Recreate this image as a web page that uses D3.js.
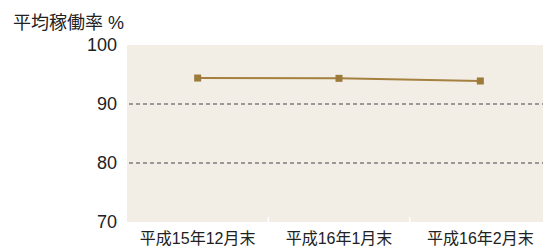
<!DOCTYPE html>
<html><head><meta charset="utf-8">
<script src="https://cdn.jsdelivr.net/npm/d3@7"></script>
<style>
html,body{margin:0;padding:0;background:#fff;overflow:hidden;}
svg{display:block;}
</style></head>
<body>
<script>
const title = "平均稼働率 %";
const categories = ["平成15年12月末", "平成16年1月末", "平成16年2月末"];
const values = [94.4, 94.35, 93.9];
const yTicks = [70, 80, 90, 100];
const gridTicks = [80, 90];

const W = 543, H = 251;
const margin = {left: 127, top: 45, bottom: 29};
const plotW = 424, plotH = H - margin.top - margin.bottom;

const svg = d3.select("body").append("svg").attr("width", W).attr("height", H);
const fontLatin = "'Liberation Sans', Arial, 'Noto Sans CJK JP', sans-serif";

const x = d3.scaleBand().domain(categories).range([margin.left, margin.left + plotW]).padding(0);
const y = d3.scaleLinear().domain([70, 100]).range([margin.top + plotH, margin.top]);

svg.append("rect").attr("x", margin.left).attr("y", margin.top)
  .attr("width", plotW).attr("height", plotH).attr("fill", "#f2eee6");

svg.selectAll("line.grid").data(gridTicks).enter().append("line")
  .attr("class", "grid")
  .attr("x1", margin.left + 2).attr("x2", margin.left + plotW)
  .attr("y1", d => y(d)).attr("y2", d => y(d))
  .attr("stroke", "#7d7d7d").attr("stroke-width", 1.3).attr("stroke-dasharray", "4,3");

svg.selectAll("line.sep").data(categories.slice(1)).enter().append("line")
  .attr("x1", d => x(d)).attr("x2", d => x(d))
  .attr("y1", y(70) - 5).attr("y2", y(70))
  .attr("stroke", "#ffffff").attr("stroke-width", 1.5);

const yAxis = d3.axisLeft(y).tickValues(yTicks).tickSize(0).tickPadding(10);
const ya = svg.append("g").attr("transform", `translate(${margin.left},0)`).call(yAxis);
ya.select(".domain").remove();
ya.selectAll("text").attr("font-size", 18).attr("font-family", fontLatin).attr("fill", "#222");

const xAxis = d3.axisBottom(x).tickSize(0).tickPadding(11);
const xa = svg.append("g").attr("transform", `translate(0,${y(70)})`).call(xAxis);
xa.select(".domain").remove();
xa.selectAll("text").attr("font-size", 16).attr("font-family", fontLatin).attr("fill", "#222");

const cx = d => x(d) + x.bandwidth() / 2;
const line = d3.line().x((d, i) => cx(categories[i])).y(d => y(d));
svg.append("path").datum(values).attr("d", line)
  .attr("fill", "none").attr("stroke", "#a5803f").attr("stroke-width", 2);

svg.selectAll("rect.pt").data(values).enter().append("rect")
  .attr("class", "pt")
  .attr("x", (d, i) => cx(categories[i]) - 3.5).attr("y", d => y(d) - 3.5)
  .attr("width", 7).attr("height", 7).attr("fill", "#9b7a3a");

svg.append("text").attr("x", 13).attr("y", 29).text(title)
  .attr("font-size", 18).attr("font-family", fontLatin).attr("fill", "#222");
</script>
</body></html>
